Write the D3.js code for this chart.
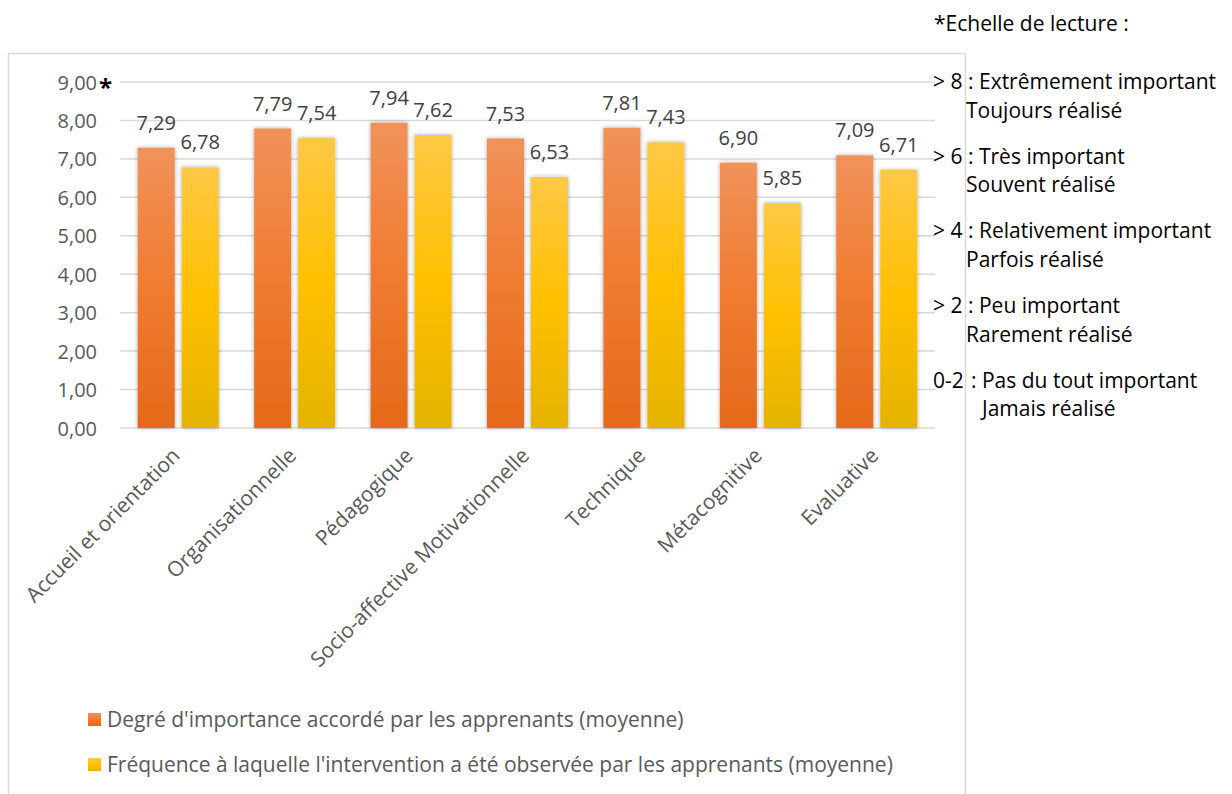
<!DOCTYPE html>
<html><head><meta charset="utf-8">
<script src="https://cdn.jsdelivr.net/npm/d3@7"></script>
<style>body{margin:0;background:#fff}svg{display:block}</style>
</head><body>
<svg id="c" width="1232" height="794"></svg>
<script>
const categories = ["Accueil et orientation","Organisationnelle","Pédagogique","Socio-affective Motivationnelle","Technique","Métacognitive","Evaluative"];
const importance = [7.29,7.79,7.94,7.53,7.81,6.90,7.09];
const frequence = [6.78,7.54,7.62,6.53,7.43,5.85,6.71];
const seriesNames = ["Degré d'importance accordé par les apprenants (moyenne)","Fréquence à laquelle l'intervention a été observée par les apprenants (moyenne)"];
const yTicks = [0,1,2,3,4,5,6,7,8,9];
const scaleNote = "*Echelle de lecture :";
const scaleItems = [
  ["> 8", ": Extrêmement important", "Toujours réalisé"],
  ["> 6", ": Très important", "Souvent réalisé"],
  ["> 4", ": Relativement important", "Parfois réalisé"],
  ["> 2", ": Peu important", "Rarement réalisé"],
  ["0-2", ": Pas du tout important", "Jamais réalisé"]
];

const FONT = "'Open Sans', sans-serif";
const svg = d3.select("#c");
const defs = svg.append("defs");
function grad(id, stops){
  const g = defs.append("linearGradient").attr("id",id).attr("x1",0).attr("y1",0).attr("x2",0).attr("y2",1);
  stops.forEach(s=>g.append("stop").attr("offset",s[0]).attr("stop-color",s[1]));
}
grad("gO",[[0,"#f0925a"],[0.5,"#f07b30"],[1,"#e4691b"]]);
grad("gY",[[0,"#fec845"],[0.5,"#ffc000"],[1,"#e5b300"]]);
const f = defs.append("filter").attr("id","sh").attr("x","-30%").attr("y","-10%").attr("width","160%").attr("height","120%");
f.append("feDropShadow").attr("dx",0).attr("dy",0).attr("stdDeviation",2).attr("flood-color","#000").attr("flood-opacity",0.35);

// frame
svg.append("rect").attr("x",8.5).attr("y",53.5).attr("width",957).attr("height",760)
  .attr("fill","none").attr("stroke","#d9d9d9").attr("stroke-width",1.5);

const x0 = d3.scaleBand().domain(categories).range([120,935]);
const y = d3.scaleLinear().domain([0,9]).range([428,82]);
const bw = 37, gap = 7;

// gridlines
svg.append("g").selectAll("line").data(yTicks).join("line")
  .attr("x1",120).attr("x2",935).attr("y1",d=>y(d)).attr("y2",d=>y(d))
  .attr("stroke","#d9d9d9").attr("stroke-width",1.5);

// y axis labels
const yAxis = d3.axisLeft(y).tickValues(yTicks).tickSize(0).tickPadding(0)
  .tickFormat(d=>d3.format(".2f")(d).replace(".",","));
const ya = svg.append("g").attr("transform","translate(97,0)").call(yAxis);
ya.select(".domain").remove();
ya.selectAll("text").attr("font-family",FONT).attr("font-size",20).attr("fill","#595959").attr("dy","0.35em");
svg.append("text").attr("x",99).attr("y",y(9)+14).text("*").attr("font-family",FONT)
  .attr("font-size",24).attr("font-weight","bold").attr("fill","#000");

// bars
const series = [{v:importance,fill:"url(#gO)",off:-(bw+gap)/2},{v:frequence,fill:"url(#gY)",off:(bw+gap)/2}];
series.forEach(s=>{
  const g = svg.append("g");
  g.selectAll("rect").data(categories).join("rect")
    .attr("x",(c)=>x0(c)+x0.bandwidth()/2+s.off-bw/2)
    .attr("y",(c,i)=>y(s.v[i]))
    .attr("width",bw).attr("height",(c,i)=>y(0)-y(s.v[i]))
    .attr("fill",s.fill).attr("filter","url(#sh)");
  g.selectAll("text").data(categories).join("text")
    .attr("x",(c)=>x0(c)+x0.bandwidth()/2+s.off)
    .attr("y",(c,i)=>y(s.v[i])-18)
    .attr("text-anchor","middle").attr("font-family",FONT).attr("font-size",20).attr("fill","#404040")
    .text((c,i)=>d3.format(".2f")(s.v[i]).replace(".",","));
});

// x labels
svg.append("g").selectAll("text").data(categories).join("text")
  .attr("transform",c=>`translate(${x0(c)+x0.bandwidth()/2+3},457) rotate(-45)`)
  .attr("text-anchor","end").attr("font-family",FONT).attr("font-size",21).attr("fill","#595959")
  .text(c=>c);

// legend
const lg = svg.append("g");
seriesNames.forEach((n,i)=>{
  const yy = 720 + i*45;
  lg.append("rect").attr("x",88).attr("y",yy-7).attr("width",13).attr("height",13).attr("fill",i?"url(#gY)":"url(#gO)");
  lg.append("text").attr("x",107).attr("y",yy).attr("dy","0.35em").attr("font-family",FONT)
    .attr("font-size",21).attr("fill","#595959").text(n);
});

// reading scale
svg.append("text").attr("x",934).attr("y",31).attr("font-family",FONT).attr("font-size",21).attr("fill","#000").text(scaleNote);
const sc = svg.append("g");
scaleItems.forEach((it,i)=>{
  const yy = 89 + i*74.7;
  const last = it[0]==="0-2";
  sc.append("text").attr("x",933).attr("y",yy).attr("font-family",FONT).attr("font-size",21).attr("fill","#000").text(it[0]);
  sc.append("text").attr("x",last?971:968).attr("y",yy).attr("font-family",FONT).attr("font-size",21).attr("fill","#000").text(it[1]);
  sc.append("text").attr("x",last?982:966).attr("y",yy+28.5).attr("font-family",FONT).attr("font-size",21).attr("fill","#000").text(it[2]);
});
</script>
</body></html>
